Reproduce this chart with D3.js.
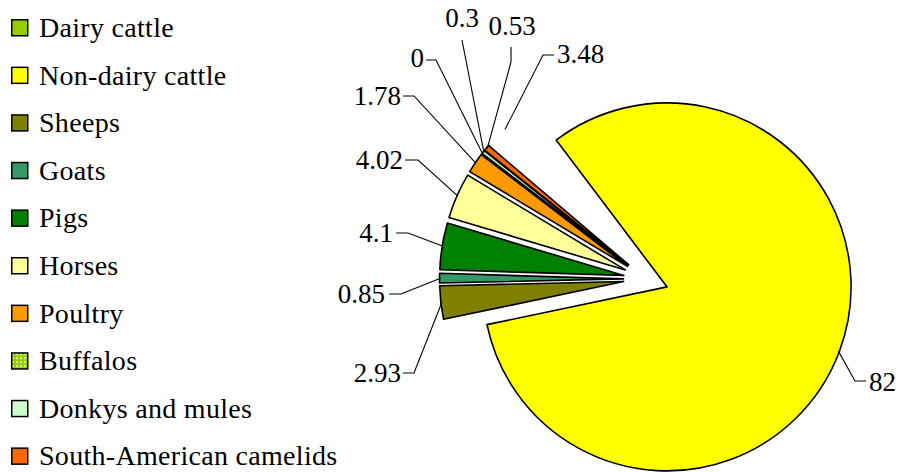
<!DOCTYPE html>
<html>
<head>
<meta charset="utf-8">
<script src="https://cdn.jsdelivr.net/npm/d3@7"></script>
<style>
  html, body { margin: 0; padding: 0; background: #fff; }
  svg { display: block; }
</style>
</head>
<body>
<svg id="chart" width="898" height="472"></svg>
<script>
// Livestock categories and their shares (%)
const categories = ["Dairy cattle", "Non-dairy cattle", "Sheeps", "Goats", "Pigs",
                    "Horses", "Poultry", "Buffalos", "Donkys and mules", "South-American camelids"];
const shares = [3.48, 82, 2.93, 0.85, 4.1, 4.02, 1.78, 0, 0.3, 0.53];
const valueLabels = ["3.48", "82", "2.93", "0.85", "4.1", "4.02", "1.78", "0", "0.3", "0.53"];
const colors = ["#99CC00", "#FFFF00", "#808000", "#339966", "#008000",
                "#FFFF99", "#FF9900", "url(#buffaloPattern)", "#CCFFCC", "#FF6600"];
// slices left out of the pie drawing (still listed in the legend)
const hiddenSlices = ["Dairy cattle"];

const FONT = "'Liberation Serif', 'Times New Roman', 'DejaVu Serif', serif";

// Pie geometry
const cx = 646, cy = 279, radius = 184, explode = 22.5;
const firstSliceDeg = -49.6;

// Label layout: text anchor point, anchor side, and leader elbow
const labelLayout = [
  { x: 557, y: 63, anchor: "start",  elbow: [543, 55], end: [554, 55] },
  { x: 869, y: 391, anchor: "start", elbow: [855, 381], end: [866, 381] },
  { x: 401, y: 382, anchor: "end",   elbow: [414, 373], end: [403, 373] },
  { x: 385, y: 303, anchor: "end",   elbow: [401, 294], end: [389, 294] },
  { x: 393, y: 242, anchor: "end",   elbow: [408, 233], end: [396, 233] },
  { x: 403, y: 169, anchor: "end",   elbow: [418, 160], end: [405, 160] },
  { x: 401, y: 105, anchor: "end",   elbow: [414, 96],  end: [403, 96] },
  { x: 424, y: 67,  anchor: "end",   elbow: [436, 60],  end: [426, 60] },
  { x: 462, y: 27,  anchor: "middle", elbow: [462, 40], end: [462, 40] },
  { x: 512, y: 35,  anchor: "middle", elbow: [511, 62], end: [511, 47] }
];

const svg = d3.select("#chart").attr("font-family", FONT);

// Dotted lattice fill for buffalos
const defs = svg.append("defs");
const pat = defs.append("pattern").attr("id", "buffaloPattern")
  .attr("patternUnits", "userSpaceOnUse").attr("width", 4).attr("height", 4);
pat.append("rect").attr("width", 4).attr("height", 4).attr("fill", "#99CC00");
pat.append("rect").attr("x", 1).attr("y", 1).attr("width", 2).attr("height", 2).attr("fill", "#D9EEA0");

const rad = Math.PI / 180;
const data = categories.map((c, i) => ({ name: c, value: shares[i], i }));
const pie = d3.pie().value(d => d.value).sort(null)
  .startAngle(firstSliceDeg * rad).endAngle(firstSliceDeg * rad + 2 * Math.PI);
const arcs = pie(data);
const arc = d3.arc().innerRadius(0).outerRadius(radius);

function offsetOf(a) {
  const mid = (a.startAngle + a.endAngle) / 2;
  return [explode * Math.sin(mid), -explode * Math.cos(mid)];
}

const slices = svg.append("g").attr("transform", `translate(${cx},${cy})`);
slices.selectAll("path").data(arcs).join("path")
  .attr("transform", d => { const o = offsetOf(d); return `translate(${o[0]},${o[1]})`; })
  .attr("d", arc)
  .attr("fill", d => colors[d.data.i])
  .attr("stroke", "#000")
  .attr("stroke-width", 1.6)
  .attr("stroke-linejoin", "round")
  .attr("opacity", d => hiddenSlices.includes(d.data.name) ? 0 : 1);

// Leader lines and value labels
const labelsG = svg.append("g");
arcs.forEach(a => {
  const L = labelLayout[a.data.i];
  const mid = (a.startAngle + a.endAngle) / 2;
  const o = offsetOf(a);
  const sx = cx + o[0] + (radius - 1) * Math.sin(mid);
  const sy = cy + o[1] - (radius - 1) * Math.cos(mid);
  labelsG.append("path")
    .attr("d", d3.line()([[sx, sy], L.elbow, L.end]))
    .attr("fill", "none").attr("stroke", "#000").attr("stroke-width", 1.1);
  labelsG.append("text")
    .attr("x", L.x).attr("y", L.y)
    .attr("text-anchor", L.anchor)
    .attr("font-family", FONT)
    .attr("font-size", 27)
    .text(valueLabels[a.data.i]);
});

// Legend
const legend = svg.append("g").attr("transform", "translate(11,19)");
const rowH = 47.6;
const rows = legend.selectAll("g").data(categories).join("g")
  .attr("transform", (d, i) => `translate(0,${i * rowH})`);
rows.append("rect").attr("x", 0.75).attr("y", 0.75).attr("width", 16).attr("height", 16)
  .attr("fill", (d, i) => colors[i]).attr("stroke", "#000").attr("stroke-width", 1.5);
rows.append("text").attr("x", 28).attr("y", 18)
  .attr("font-family", FONT)
  .attr("font-size", 28)
  .attr("letter-spacing", 0.3)
  .text(d => d);
</script>
</body>
</html>
